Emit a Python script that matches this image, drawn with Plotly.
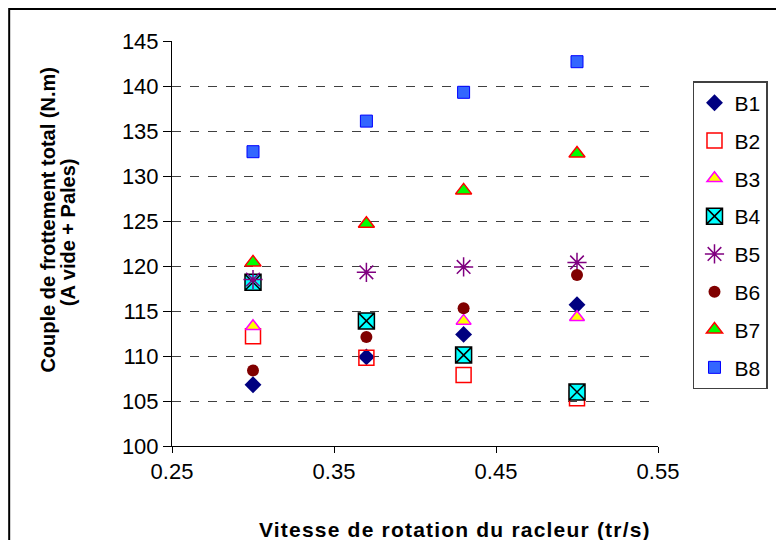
import plotly.graph_objects as go

# vitesse de rotation (tr/s)
vitesse = [0.30, 0.37, 0.43, 0.50]

# couple de frottement total (N.m) par série
B1 = [106.8, 109.9, 112.4, 115.7]
B2 = [112.2, 109.8, 107.9, 105.3]
B3 = [113.3, 113.9, 113.9, 114.3]
B4 = [118.2, 113.9, 110.1, 106.0]
B5 = [118.5, 119.3, 119.9, 120.4]
B6 = [108.4, 112.1, 115.3, 119.0]
B7 = [120.4, 124.7, 128.4, 132.5]
B8 = [132.7, 136.1, 139.3, 142.7]

series_names = ["B1", "B2", "B3", "B4", "B5", "B6", "B7", "B8"]
series_values = [B1, B2, B3, B4, B5, B6, B7, B8]

# style des marqueurs (façon Excel)
styles = {
    "B1": dict(symbol="diamond", size=13, color="#000080", line=dict(width=0)),
    "B2": dict(symbol="square-open", size=15, color="#FF0000", line=dict(width=1.5, color="#FF0000")),
    "B3": dict(symbol="triangle-up", size=13, color="#FFFF00", line=dict(width=1.5, color="#FF00FF")),
    "B4": dict(symbol="square-x", size=16, color="#00FFFF", line=dict(width=1.5, color="#000000")),
    "B5": dict(symbol="asterisk-open", size=16, color="#800080", line=dict(width=1.5, color="#800080")),
    "B6": dict(symbol="circle", size=12, color="#800000", line=dict(width=0)),
    "B7": dict(symbol="triangle-up", size=14, color="#00FF00", line=dict(width=1.5, color="#FF0000")),
    "B8": dict(symbol="square", size=12, color="#3366FF", line=dict(width=1, color="#0000FF")),
}

fig = go.Figure()
for name, vals in zip(series_names, series_values):
    fig.add_trace(go.Scatter(
        x=vitesse, y=vals, mode="markers", name=name,
        legendgroup=name, marker=styles[name],
    ))

font_main = "Arial, Liberation Sans, sans-serif"

# la page ajoute une marge de 8 px : la figure fait donc 776 x 532
fig.update_layout(
    width=776, height=532,
    margin=dict(l=164, r=126, t=33, b=94, autoexpand=False),
    paper_bgcolor="white", plot_bgcolor="white",
    font=dict(family=font_main, color="black"),
    showlegend=True,
    legend=dict(
        x=1.072, xanchor="left", y=0.901, yanchor="top",
        bordercolor="#404040", borderwidth=1.5,
        font=dict(size=21, family=font_main),
        tracegroupgap=7.5,
        itemwidth=30,
    ),
    xaxis=dict(
        range=[0.25, 0.55], tick0=0.25, dtick=0.1, tickformat=".2f",
        showgrid=False, zeroline=False,
        showline=True, linecolor="black", linewidth=1,
        ticks="outside", ticklen=6, tickcolor="black",
        tickfont=dict(size=22),
    ),
    yaxis=dict(
        range=[100, 145], dtick=5,
        showgrid=True, gridcolor="#404040", griddash="dash", gridwidth=1,
        zeroline=False,
        showline=True, linecolor="black", linewidth=1,
        ticks="outside", ticklen=8, tickcolor="black",
        tickfont=dict(size=22),
    ),
    annotations=[
        dict(text="<b><span style='letter-spacing:1.2px'>Vitesse de rotation du racleur (tr/s)</span></b>",
             xref="paper", yref="paper", x=0.582, y=-0.205,
             xanchor="center", yanchor="middle", showarrow=False,
             font=dict(size=21)),
        dict(text="<b>Couple de frottement total (N.m)</b>",
             xref="paper", yref="paper", x=-0.256, y=0.558,
             xanchor="center", yanchor="middle", showarrow=False,
             textangle=-90, font=dict(size=20)),
        dict(text="<b>(A vide + Pales)</b>",
             xref="paper", yref="paper", x=-0.214, y=0.528,
             xanchor="center", yanchor="middle", showarrow=False,
             textangle=-90, font=dict(size=20)),
    ],
    shapes=[
        dict(type="rect", xref="paper", yref="paper",
             x0=-0.335, x1=1.35, y0=-0.3, y1=1.079,
             line=dict(color="black", width=2), layer="below"),
    ],
)

fig.write_html("out.html")
